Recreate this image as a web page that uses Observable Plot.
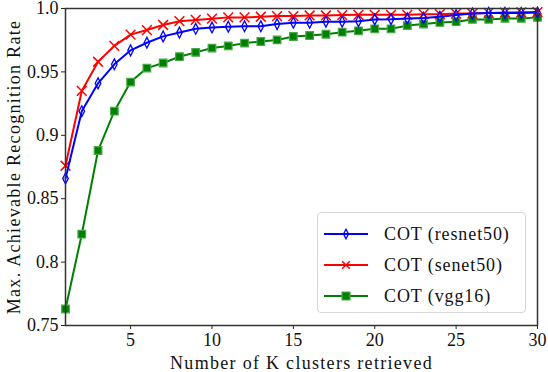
<!DOCTYPE html>
<html>
<head>
<meta charset="utf-8">
<script src="https://cdn.jsdelivr.net/npm/d3@7"></script>
<script src="https://cdn.jsdelivr.net/npm/@observablehq/plot@0.6"></script>
<style>
  html, body { margin: 0; padding: 0; background: #fff; }
  #wrap { position: relative; width: 548px; height: 372px; font-family: "Liberation Serif", serif; }
  #legend { position: absolute; left: 317px; top: 212px; width: 209px; height: 101px;
    border: 1px solid #d8d8d8; border-radius: 4px; background: rgba(255,255,255,0.85); box-sizing: border-box; }
  .row { position: absolute; left: 0; height: 24px; display: flex; align-items: center; }
  .row svg { margin-left: 6px; }
  .row span { margin-left: 16px; font-size: 18px; letter-spacing: 0.9px; color: #111; white-space: nowrap; }
  .axlabel { letter-spacing: 1.3px; }
</style>
</head>
<body>
<div id="wrap"></div>
<script>
const ks = d3.range(1, 31);
const resnet50 = [0.866, 0.919, 0.941, 0.956, 0.967, 0.973, 0.978, 0.981, 0.984, 0.985,
  0.9857, 0.986, 0.986, 0.9877, 0.9888, 0.9888, 0.9896, 0.9896, 0.990, 0.9914,
  0.9916, 0.9922, 0.9926, 0.9935, 0.9948, 0.996, 0.9965, 0.9965, 0.9965, 0.9968];
const senet50 = [0.876, 0.935, 0.958, 0.9705, 0.9794, 0.983, 0.987, 0.990, 0.991, 0.992,
  0.993, 0.993, 0.9935, 0.994, 0.994, 0.9945, 0.9945, 0.9948, 0.995, 0.995,
  0.995, 0.995, 0.9955, 0.9955, 0.996, 0.996, 0.9965, 0.9968, 0.997, 0.9972];
const vgg16 = [0.763, 0.822, 0.888, 0.919, 0.942, 0.953, 0.957, 0.962, 0.9654, 0.9688,
  0.9705, 0.9727, 0.974, 0.9752, 0.9779, 0.9787, 0.9797, 0.9813, 0.9824, 0.984,
  0.984, 0.9865, 0.9877, 0.989, 0.9896, 0.9914, 0.9914, 0.9922, 0.9922, 0.993];
const seriesNames = ["COT (resnet50)", "COT (senet50)", "COT (vgg16)"];
const seriesColors = ["#0000ff", "#ff0000", "#008000"];
const yTicks = [0.75, 0.8, 0.85, 0.9, 0.95, 1.0];
const yTickLabels = ["0.75", "0.8", "0.85", "0.9", "0.95", "1.0"];
const xTicks = [5, 10, 15, 20, 25, 30];

const thinDiamond = {
  draw(context, size) {
    const s = Math.sqrt(size / Math.PI);
    context.moveTo(0, -1.2 * s);
    context.lineTo(0.62 * s, 0);
    context.lineTo(0, 1.2 * s);
    context.lineTo(-0.62 * s, 0);
    context.closePath();
  }
};

const mk = (vals, name) => ks.map((k, i) => ({k, v: vals[i], name}));
const dR = mk(resnet50, seriesNames[0]);
const dS = mk(senet50, seriesNames[1]);
const dV = mk(vgg16, seriesNames[2]);

const plot = Plot.plot({
  width: 548,
  height: 372,
  marginLeft: 65,
  marginRight: 11,
  marginTop: 8,
  marginBottom: 47,
  style: { fontFamily: "Liberation Serif, serif", fontSize: "18px", color: "#111", background: "white", overflow: "visible" },
  x: { domain: [1, 30] },
  y: { domain: [0.75, 1.0] },
  marks: [
    Plot.axisX({ ticks: xTicks, tickSize: 4, tickPadding: 4, label: null, fontSize: 18, stroke: "#222" }),
    Plot.axisY({ ticks: yTicks, tickFormat: (d) => yTickLabels[yTicks.findIndex(t => Math.abs(t - d) < 1e-9)],
      tickSize: 4, tickPadding: 3, label: null, fontSize: 18, stroke: "#222" }),
    Plot.text(["Number of K clusters retrieved"], { frameAnchor: "bottom", dy: 38, lineAnchor: "middle",
      textAnchor: "middle", text: d => d, fontSize: 18, fill: "#111", className: "axlabel" }),
    Plot.text(["Max. Achievable Recognition Rate"], { frameAnchor: "left", dx: -51, rotate: -90, lineAnchor: "middle",
      textAnchor: "middle", text: d => d, fontSize: 18, fill: "#111", className: "axlabel" }),
    Plot.line(dV, { x: "k", y: "v", stroke: seriesColors[2], strokeWidth: 2 }),
    Plot.dot(dV, { x: "k", y: "v", symbol: "square", r: 4.3, fill: seriesColors[2], stroke: "#4aa84a", strokeWidth: 1.2 }),
    Plot.line(dS, { x: "k", y: "v", stroke: seriesColors[1], strokeWidth: 2 }),
    Plot.dot(dS, { x: "k", y: "v", symbol: "times", r: 4.5, stroke: seriesColors[1], strokeWidth: 1.5 }),
    Plot.line(dR, { x: "k", y: "v", stroke: seriesColors[0], strokeWidth: 2 }),
    Plot.dot(dR, { x: "k", y: "v", symbol: thinDiamond, r: 4.5, fill: "none", stroke: seriesColors[0], strokeWidth: 1.3 }),
    Plot.frame({ stroke: "#333", strokeWidth: 1.5 })
  ]
});

const wrap = document.getElementById("wrap");
wrap.appendChild(plot);

// legend
const legend = document.createElement("div");
legend.id = "legend";
seriesNames.forEach((name, i) => {
  const row = document.createElement("div");
  row.className = "row";
  row.style.top = (9 + i * 31) + "px";
  const svg = d3.create("svg").attr("width", 44).attr("height", 24);
  svg.append("line").attr("x1", 0).attr("x2", 44).attr("y1", 12).attr("y2", 12)
    .attr("stroke", seriesColors[i]).attr("stroke-width", 2);
  const g = svg.append("path").attr("transform", "translate(22,12)");
  if (i === 0) g.attr("d", d3.symbol(thinDiamond, Math.PI * 16)()).attr("fill", "none").attr("stroke", seriesColors[0]).attr("stroke-width", 1.3);
  if (i === 1) g.attr("d", d3.symbol(d3.symbolTimes, 40)()).attr("fill", "none").attr("stroke", seriesColors[1]).attr("stroke-width", 1.5);
  if (i === 2) g.attr("d", d3.symbol(d3.symbolSquare, 64)()).attr("fill", seriesColors[2]).attr("stroke", "#4aa84a").attr("stroke-width", 1.2);
  row.appendChild(svg.node());
  const span = document.createElement("span");
  span.textContent = name;
  row.appendChild(span);
  legend.appendChild(row);
});
wrap.appendChild(legend);
</script>
</body>
</html>
